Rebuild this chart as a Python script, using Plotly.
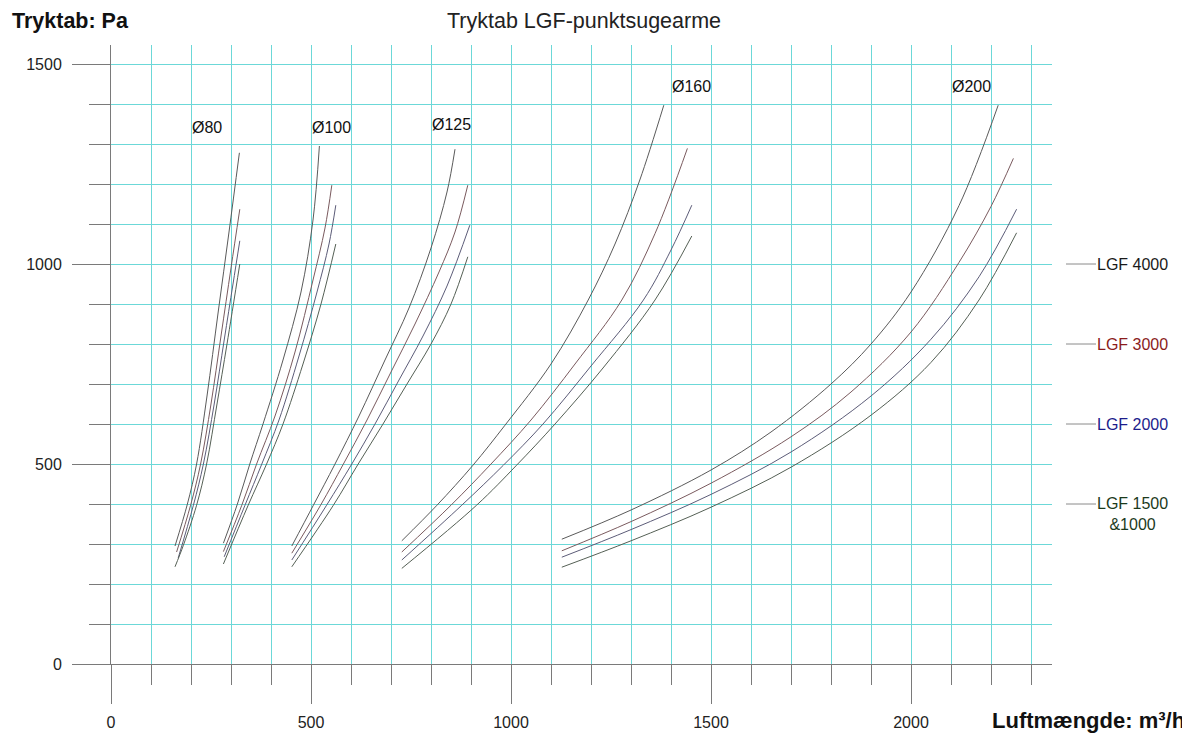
import plotly.graph_objects as go

# ---------------- data ----------------
# airflow q [m3/h] and pressure loss p [Pa] per duct size and LGF model
d80_4000_q = [160, 191, 214, 240, 268, 295, 321]
d80_4000_p = [295, 400, 500, 670, 880, 1080, 1278]
d80_3000_q = [164, 199, 224, 250, 275, 300, 322]
d80_3000_p = [280, 397, 500, 650, 820, 990, 1137]
d80_2000_q = [168, 206, 231, 258, 283, 305, 322]
d80_2000_p = [265, 397, 500, 650, 810, 950, 1058]
d80_1500_q = [160, 181, 214, 239, 265, 290, 322]
d80_1500_p = [243, 297, 397, 500, 650, 800, 1000]

d100_4000_q = [281, 316, 347, 380, 430, 475, 505, 521]
d100_4000_p = [302, 400, 500, 600, 760, 930, 1110, 1295]
d100_3000_q = [281, 327, 364, 410, 460, 505, 535, 552]
d100_3000_p = [281, 397, 500, 620, 780, 960, 1090, 1197]
d100_2000_q = [283, 335, 377, 420, 470, 515, 545, 562]
d100_2000_p = [268, 397, 500, 610, 770, 930, 1050, 1147]
d100_1500_q = [281, 343, 389, 430, 480, 525, 562]
d100_1500_p = [250, 397, 500, 600, 750, 900, 1050]

d125_4000_q = [452, 506, 560, 620, 685, 745, 800, 840, 860]
d125_4000_p = [295, 397, 500, 620, 760, 890, 1040, 1180, 1287]
d125_3000_q = [452, 524, 581, 640, 700, 760, 820, 860, 892]
d125_3000_p = [277, 397, 500, 610, 730, 850, 980, 1080, 1197]
d125_2000_q = [452, 539, 602, 660, 720, 780, 840, 897]
d125_2000_p = [260, 397, 500, 600, 710, 820, 945, 1097]
d125_1500_q = [452, 556, 618, 680, 740, 800, 850, 892]
d125_1500_p = [243, 397, 500, 600, 700, 800, 900, 1018]

d160_4000_q = [727, 815, 905, 985, 1100, 1193, 1260, 1322, 1382]
d160_4000_p = [308, 397, 497, 597, 750, 910, 1050, 1210, 1397]
d160_3000_q = [727, 850, 950, 1050, 1160, 1277, 1360, 1441]
d160_3000_p = [280, 397, 500, 610, 750, 910, 1076, 1289]
d160_2000_q = [727, 877, 981, 1080, 1200, 1331, 1400, 1452]
d160_2000_p = [260, 397, 497, 600, 745, 910, 1035, 1147]
d160_1500_q = [727, 914, 1014, 1110, 1230, 1360, 1452]
d160_1500_p = [239, 397, 497, 600, 740, 910, 1070]

d200_4000_q = [1127, 1300, 1500, 1650, 1800, 1900, 2000, 2120, 2218]
d200_4000_p = [312, 385, 485, 580, 700, 800, 930, 1146, 1397]
d200_3000_q = [1127, 1300, 1500, 1700, 1850, 2000, 2120, 2200, 2256]
d200_3000_p = [283, 356, 452, 568, 680, 830, 1004, 1144, 1264]
d200_2000_q = [1127, 1300, 1500, 1700, 1900, 2050, 2170, 2264]
d200_2000_p = [267, 336, 424, 530, 670, 812, 968, 1137]
d200_1500_q = [1127, 1300, 1500, 1700, 1900, 2050, 2170, 2264]
d200_1500_p = [242, 308, 392, 492, 622, 754, 910, 1078]

duct_labels = ["Ø80", "Ø100", "Ø125", "Ø160", "Ø200"]
duct_label_x = [241, 550, 852, 1450, 2152]
duct_label_y = [1342, 1342, 1350, 1445, 1445]

model_labels = ["LGF 4000", "LGF 3000", "LGF 2000", "LGF 1500<br>&1000"]
model_label_y = [1000, 800, 600, 400]

x_tick_vals = [0, 500, 1000, 1500, 2000]
y_tick_vals = [0, 500, 1000, 1500]

# ---------------- styling / geometry ----------------
line_colors = ["#5a5a5a", "#7a5a5e", "#5c5c78", "#556055"]
text_colors = ["#1a1a1a", "#8b1c1c", "#1c1c8b", "#1c3a1c"]
grid_c = "#6cd8d8"
axis_c = "#7a7a7a"
FONT = "Liberation Sans, Arial, Helvetica, sans-serif"

OFF = 8                       # page body margin of the html page
W, H = 1190 - OFF, 735 - OFF
ML, MT = 111 - OFF, 45 - OFF
MR = W - (1052 - OFF)
MB = H - (664 - OFF)
plot_w = W - ML - MR
plot_h = H - MT - MB
x_max = plot_w / 0.4
y_max = plot_h / 0.4


def px_x(px):
    """reference-image pixel x -> paper x"""
    return (px - OFF - ML) / plot_w


def px_y(py):
    """reference-image pixel y -> paper y"""
    return (H - MB - (py - OFF)) / plot_h


curves = [
    [(d80_4000_q, d80_4000_p), (d80_3000_q, d80_3000_p), (d80_2000_q, d80_2000_p), (d80_1500_q, d80_1500_p)],
    [(d100_4000_q, d100_4000_p), (d100_3000_q, d100_3000_p), (d100_2000_q, d100_2000_p), (d100_1500_q, d100_1500_p)],
    [(d125_4000_q, d125_4000_p), (d125_3000_q, d125_3000_p), (d125_2000_q, d125_2000_p), (d125_1500_q, d125_1500_p)],
    [(d160_4000_q, d160_4000_p), (d160_3000_q, d160_3000_p), (d160_2000_q, d160_2000_p), (d160_1500_q, d160_1500_p)],
    [(d200_4000_q, d200_4000_p), (d200_3000_q, d200_3000_p), (d200_2000_q, d200_2000_p), (d200_1500_q, d200_1500_p)],
]

fig = go.Figure()
for di, group in enumerate(curves):
    for mi, (q, p) in enumerate(group):
        fig.add_trace(go.Scatter(
            x=q, y=p, mode="lines",
            line=dict(color=line_colors[mi], width=1, shape="spline", smoothing=1.0),
            name=f"{duct_labels[di]} {model_labels[mi].replace('<br>', ' ')}",
            showlegend=False, hoverinfo="x+y+name",
        ))

# invisible trace to anchor the overlay axes that carry the long major ticks + labels
fig.add_trace(go.Scatter(x=[0], y=[0], xaxis="x2", yaxis="y2", mode="markers",
                         marker=dict(opacity=0), hoverinfo="skip", showlegend=False))

tickfont = dict(size=16, color="#222222", family=FONT)

fig.update_layout(
    width=W, height=H,
    margin=dict(l=ML, r=MR, t=MT, b=MB, pad=0),
    paper_bgcolor="white", plot_bgcolor="white",
    font=dict(family=FONT, size=16, color="#222222"),
    showlegend=False,
    xaxis=dict(
        range=[0, x_max], tick0=0, dtick=100,
        ticks="outside", ticklen=20, tickcolor=axis_c, tickwidth=1,
        showticklabels=False,
        showgrid=True, gridcolor=grid_c, gridwidth=1,
        showline=True, linecolor=axis_c, linewidth=1,
        zeroline=False, automargin=False,
    ),
    yaxis=dict(
        range=[0, y_max], tick0=0, dtick=100,
        ticks="outside", ticklen=21, tickcolor=axis_c, tickwidth=1,
        showticklabels=False,
        showgrid=True, gridcolor=grid_c, gridwidth=1,
        showline=True, linecolor=axis_c, linewidth=1,
        zeroline=False, automargin=False,
    ),
    xaxis2=dict(
        overlaying="x", anchor="y", side="bottom",
        range=[0, x_max], tickvals=x_tick_vals,
        ticks="outside", ticklen=39, tickcolor=axis_c, tickwidth=1,
        ticklabelstandoff=5, tickfont=tickfont,
        showgrid=False, showline=False, zeroline=False, automargin=False,
    ),
    yaxis2=dict(
        overlaying="y", anchor="x", side="left",
        range=[0, y_max], tickvals=y_tick_vals,
        ticks="outside", ticklen=38, tickcolor=axis_c, tickwidth=1,
        ticklabelstandoff=7, tickfont=tickfont,
        showgrid=False, showline=False, zeroline=False, automargin=False,
    ),
)

ann = []
ann.append(dict(text="Tryktab LGF-punktsugearme", xref="paper", yref="paper",
                x=px_x(584), y=px_y(21), xanchor="center", yanchor="middle",
                borderpad=0, showarrow=False, font=dict(size=21.5, color="#222222")))
ann.append(dict(text="<b>Tryktab: Pa</b>", xref="paper", yref="paper",
                x=px_x(11), y=px_y(21), xanchor="left", yanchor="middle",
                borderpad=0, showarrow=False, font=dict(size=21.5, color="#111111")))
ann.append(dict(text="<b>Luftmængde: m³/h</b>", xref="paper", yref="paper",
                x=px_x(1186), y=px_y(720), xanchor="right", yanchor="middle",
                borderpad=0, showarrow=False, font=dict(size=22, color="#111111")))
for lbl, lx, ly in zip(duct_labels, duct_label_x, duct_label_y):
    ann.append(dict(text=lbl, x=lx, y=ly, xref="x", yref="y", showarrow=False,
                    xanchor="center", yanchor="middle", font=dict(size=16, color="#111111")))

shapes = []
for i, (lbl, ly) in enumerate(zip(model_labels, model_label_y)):
    shapes.append(dict(type="line", xref="paper", yref="paper",
                       x0=px_x(1066), x1=px_x(1096),
                       y0=ly / y_max, y1=ly / y_max,
                       line=dict(color="#8a8a8a", width=1)))
    if "<br>" in lbl:
        ann.append(dict(text=lbl, xref="paper", yref="paper",
                        x=px_x(1095), y=ly / y_max, yshift=11,
                        xanchor="left", yanchor="top", align="center",
                        showarrow=False, font=dict(size=16, color=text_colors[i])))
    else:
        ann.append(dict(text=lbl, xref="paper", yref="paper",
                        x=px_x(1095), y=ly / y_max,
                        xanchor="left", yanchor="middle",
                        showarrow=False, font=dict(size=16, color=text_colors[i])))

fig.update_layout(annotations=ann, shapes=shapes)
fig.write_html("out.html")
